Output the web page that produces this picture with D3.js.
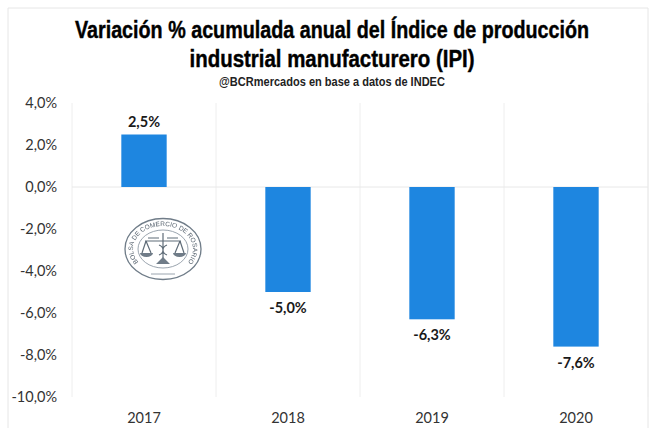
<!DOCTYPE html>
<html>
<head>
<meta charset="utf-8">
<script src="https://cdn.jsdelivr.net/npm/d3@7"></script>
<style>
body { margin: 0; background: #fff; }
svg { display: block; }
</style>
</head>
<body>
<div></div>
<script>
var years = ["2017", "2018", "2019", "2020"];
var values = [2.5, -5.0, -6.3, -7.6];
var yTicks = [4, 2, 0, -2, -4, -6, -8, -10];
var titleLines = ["Variación % acumulada anual del Índice de producción", "industrial manufacturero (IPI)"];
var subtitle = "@BCRmercados en base a datos de INDEC";
var sealText = "BOLSA DE COMERCIO DE ROSARIO";

function init() {
var w = 651;
var h = 428;
var titleScale = [0.84, 0.87];
var comma = function(d, digits) {
    return d.toFixed(digits).replace(".", ",") + "%";
};

var svg = d3.select("div")
            .append("svg")
            .attr("width", w)
            .attr("height", h);

// frame of the pasted picture
svg.append("path")
    .attr("d", "M8,428V8H648V428")
    .attr("fill", "none")
    .attr("stroke", "#e6e6e6")
    .attr("stroke-width", 1);

var x = d3.scaleBand().domain(years).range([72, 648]);
var y = d3.scaleLinear().domain([-10, 4]).range([397, 103]);

// gridlines between categories
svg.selectAll("line.vgrid")
    .data(d3.range(years.length + 1))
    .enter()
    .append("line")
    .attr("class", "vgrid")
    .attr("x1", function(d) { return 72 + d * x.step(); })
    .attr("x2", function(d) { return 72 + d * x.step(); })
    .attr("y1", y(4))
    .attr("y2", y(-10))
    .attr("stroke", "#eeeeee")
    .attr("stroke-width", 1);

svg.append("line")
    .attr("x1", 72)
    .attr("x2", 648)
    .attr("y1", y(0))
    .attr("y2", y(0))
    .attr("stroke", "#e8e8e8")
    .attr("stroke-width", 1);

var barW = x.step() * 0.315;
svg.selectAll("rect.bar")
    .data(values)
    .enter()
    .append("rect")
    .attr("class", "bar")
    .attr("x", function(d, i) { return x(years[i]) + x.step() / 2 - barW / 2; })
    .attr("y", function(d) { return y(Math.max(d, 0)); })
    .attr("width", barW)
    .attr("height", function(d) { return Math.abs(y(d) - y(0)); })
    .attr("fill", "#1e86e0");

svg.selectAll("text.val")
    .data(values)
    .enter()
    .append("text")
    .attr("class", "val")
    .text(function(d) { return comma(d, 1); })
    .attr("x", function(d, i) { return x(years[i]) + x.step() / 2; })
    .attr("y", function(d) { return d > 0 ? y(d) - 8 : y(d) + 21; })
    .attr("text-anchor", "middle")
    .attr("font-family", "Lato, sans-serif")
    .attr("font-weight", "bold")
    .attr("font-size", 14.5)
    .attr("fill", "#1a1a1a");

svg.selectAll("text.ytick")
    .data(yTicks)
    .enter()
    .append("text")
    .attr("class", "ytick")
    .text(function(d) { return comma(d, 1); })
    .attr("x", 57)
    .attr("y", function(d) { return y(d) + 5; })
    .attr("text-anchor", "end")
    .attr("font-family", "Lato, sans-serif")
    .attr("font-size", 14.5)
    .attr("fill", "#333333");

svg.selectAll("text.xtick")
    .data(years)
    .enter()
    .append("text")
    .attr("class", "xtick")
    .text(function(d) { return d; })
    .attr("x", function(d) { return x(d) + x.step() / 2; })
    .attr("y", 423)
    .attr("text-anchor", "middle")
    .attr("font-family", "Lato, sans-serif")
    .attr("font-size", 14.5)
    .attr("fill", "#333333");

// no narrow font here, so the lines get squeezed sideways
svg.selectAll("text.title")
    .data(titleLines)
    .enter()
    .append("text")
    .attr("class", "title")
    .text(function(d) { return d; })
    .attr("transform", function(d, i) { return "translate(332," + (38 + i * 29) + ") scale(" + titleScale[i] + ",1)"; })
    .attr("text-anchor", "middle")
    .attr("font-family", "'Liberation Sans', sans-serif")
    .attr("font-weight", "bold")
    .attr("font-size", 23.5)
    .attr("stroke", "#000")
    .attr("stroke-width", 0.4)
    .attr("fill", "#000");

svg.append("text")
    .text(subtitle)
    .attr("transform", "translate(332,86) scale(0.92,1)")
    .attr("text-anchor", "middle")
    .attr("font-family", "'Liberation Sans', sans-serif")
    .attr("font-weight", "bold")
    .attr("font-size", 12)
    .attr("fill", "#222");

// seal
var defs = svg.append("defs");
defs.append("filter").attr("id", "soft")
    .append("feGaussianBlur").attr("stdDeviation", 0.35);

var seal = svg.append("g")
    .attr("transform", "translate(163,249)")
    .attr("filter", "url(#soft)");
seal.append("ellipse").attr("rx", 38).attr("ry", 30.5)
    .attr("fill", "#fff").attr("stroke", "#6f7c88").attr("stroke-width", 1.3);
seal.append("ellipse").attr("rx", 25).attr("ry", 19)
    .attr("fill", "none").attr("stroke", "#8f9aa5").attr("stroke-width", 0.9);
seal.append("path").attr("id", "sealArc")
    .attr("d", "M-19.3,17.6A30,23 0 1 1 19.3,17.6")
    .attr("fill", "none");
seal.append("text")
    .attr("font-family", "'Liberation Sans', sans-serif")
    .attr("font-size", 6.5)
    .attr("fill", "#56626e")
    .append("textPath")
    .attr("href", "#sealArc")
    .attr("startOffset", "50%")
    .attr("text-anchor", "middle")
    .text(sealText);
// staff and scales
seal.append("path")
    .attr("d", "M0,-16V15M-18,-8H18M-15,-11H-4M4,-11H15M-17,-8L-21,4M-17,-8L-12,4M17,-8L21,4M17,-8L12,4M-4,-4C4,-1 -4,3 4,6M4,-4C-4,-1 4,3 -4,6")
    .attr("fill", "none")
    .attr("stroke", "#5f6c78")
    .attr("stroke-width", 1.2);
seal.append("path")
    .attr("d", "M-23,4H-10A6.5,4 0 0 1 -23,4ZM10,4H23A6.5,4 0 0 1 10,4ZM-7,15H7L0,8Z")
    .attr("fill", "#6f7c88");
seal.append("path")
    .attr("d", "M-12,25H12")
    .attr("stroke", "#8f9aa5")
    .attr("stroke-width", 0.9);
}

window.onload = init;
</script>
</body>
</html>
